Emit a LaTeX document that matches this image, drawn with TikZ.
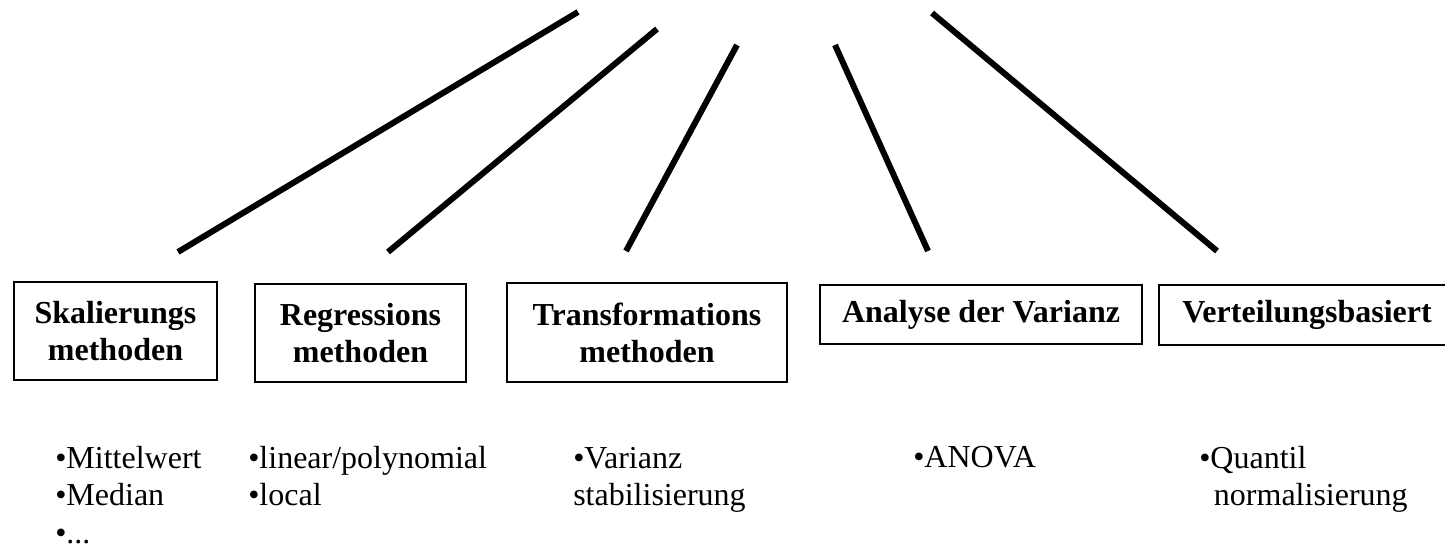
\documentclass[tikz,border=0pt]{standalone}
\usepackage{fontspec}
\setmainfont{Liberation Serif}
\begin{document}
\begin{tikzpicture}[x=0.75pt,y=-0.75pt,
  box/.style={draw,line width=1.5pt,inner sep=0pt,align=center,font=\fontsize{24}{27.75}\selectfont\bfseries},
  item/.style={inner sep=0pt,align=left,anchor=base west,font=\fontsize{24}{28.1}\selectfont},
  branch/.style={line width=4.5pt}]
\useasboundingbox (0,0) rectangle (1445,548);
% category boxes
\node[box,minimum width=152.25pt,minimum height=73.5pt] (b1) at (115.5,331) {Skalierungs\\methoden};
\node[box,minimum width=158.25pt,minimum height=73.5pt] (b2) at (360.5,333) {Regressions\\methoden};
\node[box,minimum width=210pt,minimum height=74.25pt] (b3) at (647,332.5) {Transformations\\methoden};
\node[box,minimum width=241.5pt,minimum height=44.25pt] (b4) at (981,314.5) {Analyse der Varianz};
\node[box,minimum width=222pt,minimum height=45pt] (b5) at (1307,315) {Verteilungsbasiert};
% branch lines
\coordinate (l1a) at (178,252); \coordinate (l1b) at (578,12);
\coordinate (l2a) at (388,252); \coordinate (l2b) at (657,29);
\coordinate (l3a) at (626,251); \coordinate (l3b) at (737,45);
\coordinate (l4a) at (928,251); \coordinate (l4b) at (835,45);
\coordinate (l5a) at (1217,251); \coordinate (l5b) at (932,13);
\draw[branch] (l1a) -- (l1b);
\draw[branch] (l2a) -- (l2b);
\draw[branch] (l3a) -- (l3b);
\draw[branch] (l4a) -- (l4b);
\draw[branch] (l5a) -- (l5b);
% item lists (base anchor = baseline of the last line)
\node[item] (i1) at (55,543) {•Mittelwert\\•Median\\•...};
\node[item] (i2) at (248,505.5) {•linear/polynomial\\•local};
\node[item] (i3) at (573,505.5) {•Varianz\\stabilisierung};
\node[item] (i4) at (913,468) {•ANOVA};
\node[item] (i5) at (1199,505.5) {•Quantil\\\hspace*{11pt}normalisierung};
\end{tikzpicture}
\end{document}
